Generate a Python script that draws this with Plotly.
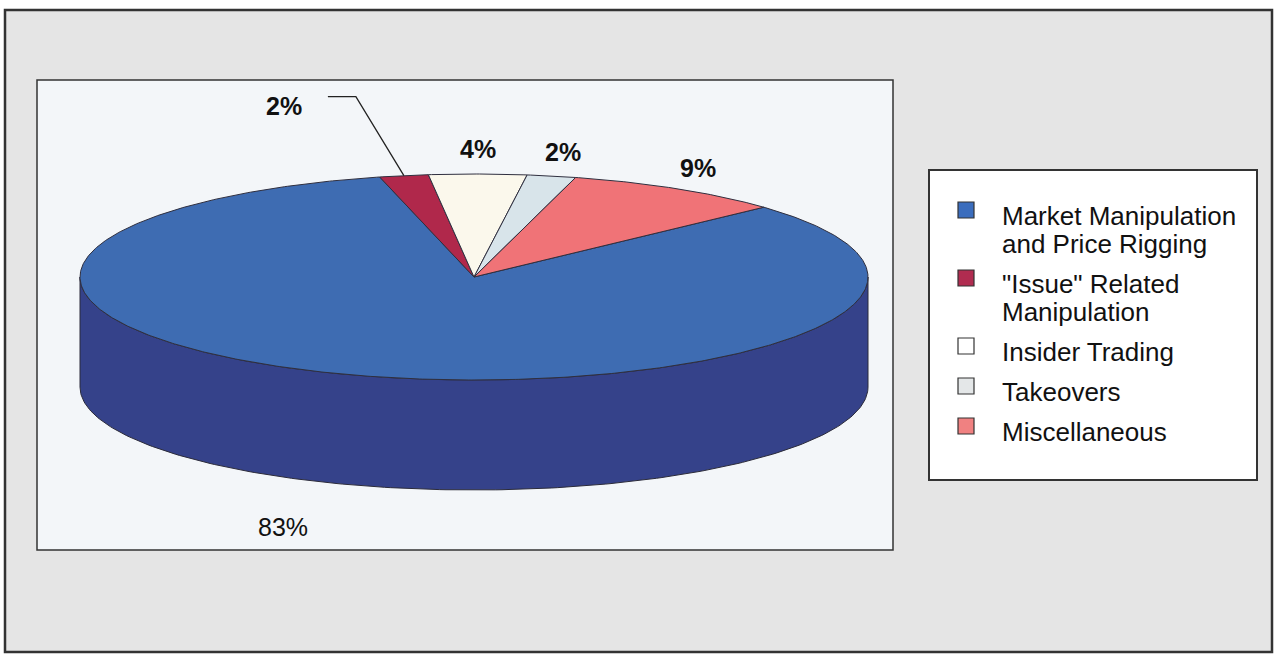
import numpy as np
import plotly.graph_objects as go

# ---- data ----
categories = ["Market Manipulation\nand Price Rigging",
              "\"Issue\" Related\nManipulation",
              "Insider Trading",
              "Takeovers",
              "Miscellaneous"]
values = [83, 2, 4, 2, 9]
pct_labels = ["83%", "2%", "4%", "2%", "9%"]

# ---- styles ----
top_colors = ["#3e6cb2", "#b0284b", "#fbf8ec", "#d8e4ea", "#f07377"]
side_colors = ["#35428a", "#7a1c35", "#d8d4c8", "#aab8c0", "#c05a5e"]
legend_colors = ["#3b6dbd", "#b02c50", "#ffffff", "#e4e7e8", "#f08181"]
label_bold = [False, True, True, True, True]
label_push = [(1.68, 1.42), (1.0, 1.0), (1.15, 1.24), (1.15, 1.24), (1.10, 1.24)]
W, H = 1279, 659
cx, cy, rx, ry, depth = 474, 277, 394, 103, 110
start_angle = 47.35          # clockwise from 12 o'clock, first slice
FONT = "Liberation Sans, Arial, sans-serif"

total = float(sum(values))
cum = np.concatenate([[0], np.cumsum(values)])
a_start = start_angle + 360 * cum[:-1] / total
a_end = start_angle + 360 * cum[1:] / total


def ell(theta, dy=0.0):
    t = np.radians(theta)
    return cx + rx * np.sin(t), cy - ry * np.cos(t) + dy


fig = go.Figure()

# side walls (front half only is visible: 90..270 deg)
for i in range(len(values)):
    for off in (0, 360):
        lo = max(a_start[i], 90 + off)
        hi = min(a_end[i], 270 + off)
        if lo < hi:
            th = np.linspace(lo, hi, 200)
            xt, yt = ell(th)
            xb, yb = ell(th[::-1], depth)
            fig.add_trace(go.Scatter(
                x=np.concatenate([xt, xb, xt[:1]]),
                y=np.concatenate([yt, yb, yt[:1]]),
                mode="lines", fill="toself", fillcolor=side_colors[i],
                line=dict(color="#2b2b3a", width=1),
                hoverinfo="skip", showlegend=False))

# top faces
for i in range(len(values)):
    th = np.linspace(a_start[i], a_end[i], max(10, int(values[i] * 8)))
    xa, ya = ell(th)
    fig.add_trace(go.Scatter(
        x=np.concatenate([[cx], xa, [cx]]),
        y=np.concatenate([[cy], ya, [cy]]),
        mode="lines", fill="toself", fillcolor=top_colors[i],
        line=dict(color="#2f2f3f", width=1),
        hoverinfo="skip", showlegend=False, name=categories[i].replace("\n", " ")))

annotations = []
# percentage labels
for i in range(len(values)):
    mid = (a_start[i] + a_end[i]) / 2
    t = np.radians(mid)
    kx, ky = label_push[i]
    if i == 1:
        # leader line for the thin slice
        ex, ey = ell(mid)
        elbow = (ex - 48, ey - 79)
        tail = (elbow[0] - 28, elbow[1])
        fig.add_trace(go.Scatter(x=[ex, elbow[0], tail[0]], y=[ey, elbow[1], tail[1]],
                                 mode="lines", line=dict(color="#222", width=1.3),
                                 hoverinfo="skip", showlegend=False))
        lx, ly, xanchor = tail[0] - 24, tail[1] + 9, "right"
    else:
        lx = cx + rx * kx * np.sin(t)
        ly = cy - ry * ky * np.cos(t) + (depth if np.cos(t) < 0 else 0)
        xanchor = "center"
    txt = pct_labels[i]
    annotations.append(dict(x=lx, y=ly, xref="x", yref="y", text=f"<b>{txt}</b>" if label_bold[i] else txt,
                            showarrow=False, xanchor=xanchor, yanchor="middle",
                            font=dict(family=FONT, size=25, color="#111")))

# frames and legend (manual)
shapes = [
    dict(type="rect", xref="x", yref="y", x0=5, y0=10, x1=1272, y1=652,
         fillcolor="#e5e5e5", line=dict(color="#333", width=2.5), layer="below"),
    dict(type="rect", xref="x", yref="y", x0=37, y0=80, x1=893, y1=550,
         fillcolor="#f3f6f9", line=dict(color="#333", width=1.5), layer="below"),
    dict(type="rect", xref="x", yref="y", x0=929, y0=170, x1=1257, y1=480,
         fillcolor="#ffffff", line=dict(color="#333", width=2), layer="below"),
]
line_h, gap, y_first = 28, 12, 216
y = y_first
for i, cat in enumerate(categories):
    lines = cat.split("\n")
    shapes.append(dict(type="rect", xref="x", yref="y", x0=958, x1=974, y0=y - 14, y1=y + 2,
                       fillcolor=legend_colors[i], line=dict(color="#333", width=1.2)))
    for j, ln in enumerate(lines):
        annotations.append(dict(x=1000, y=y + j * line_h, xref="x", yref="y", text=ln,
                                showarrow=False, xanchor="left", yanchor="middle",
                                font=dict(family=FONT, size=26, color="#111")))
    y += len(lines) * line_h + gap

fig.update_layout(
    width=W, height=H, margin=dict(l=0, r=0, t=0, b=0),
    paper_bgcolor="#ffffff", plot_bgcolor="rgba(0,0,0,0)",
    xaxis=dict(range=[0, W], visible=False, fixedrange=True),
    yaxis=dict(range=[H, 0], visible=False, fixedrange=True),
    shapes=shapes, annotations=annotations, showlegend=False,
)

fig.write_html("out.html")
